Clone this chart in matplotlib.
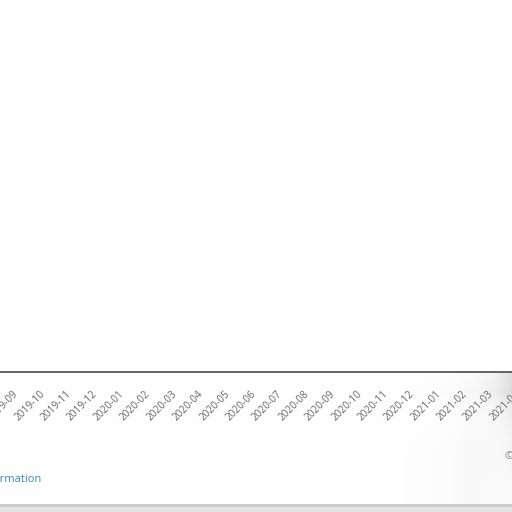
import numpy as np
import matplotlib
matplotlib.use("Agg")
import matplotlib.pyplot as plt

# Month categories on the x axis (2019-09 .. 2021-08)
months = ["2019-09", "2019-10", "2019-11", "2019-12",
          "2020-01", "2020-02", "2020-03", "2020-04", "2020-05", "2020-06",
          "2020-07", "2020-08", "2020-09", "2020-10", "2020-11", "2020-12",
          "2021-01", "2021-02", "2021-03", "2021-04", "2021-05", "2021-06",
          "2021-07", "2021-08"]
credit_text = "More information"
copyright_text = "\u00a9 Highcharts"

plt.rcParams["font.family"] = ["Open Sans", "DejaVu Sans"]

W, H = 512, 512
fig = plt.figure(figsize=(W / 100, H / 100), dpi=100)

# background shading of the lower panel
bg = fig.add_axes([0, 0, 1, 1])
bg.set_axis_off()
yy, xx = np.mgrid[0:H, 0:W].astype(float)
img = np.ones((H, W))
panel = yy >= 373
shade = 0.12 * np.exp(-((W - xx) / 18.0)) * np.exp(-np.clip(yy - 380, 0, None) / 50.0)
shade += 0.05 * np.exp(-((W - xx) / 45.0)) * np.exp(-np.abs(yy - 392) / 14.0)
shade += 0.025 * np.exp(-np.abs(xx - 470) / 35.0) * (1 / (1 + np.exp(-(yy - 430) / 10.0)))
img[panel] -= shade[panel]
band = (yy >= 504) & (yy < 507)
img[band] = 0.80
low = yy >= 507
img[low] = 0.90
img = np.clip(img, 0, 1)
bg.imshow(np.dstack([img] * 3), extent=(0, W, H, 0), aspect="auto", interpolation="bilinear")
bg.set_xlim(0, W)
bg.set_ylim(H, 0)

# main (empty) chart axes
axis_px = 372
ax_w_px = 640
ax = fig.add_axes([0, (H - axis_px) / H, ax_w_px / W, axis_px / H])
ax.patch.set_alpha(0)
step = 26.4
x0 = 13.0
ax.set_xlim(-x0 / step, (ax_w_px - x0) / step)
ax.set_ylim(0, 1)
for s in ["top", "left", "right"]:
    ax.spines[s].set_visible(False)
ax.spines["bottom"].set_color("#555555")
ax.spines["bottom"].set_linewidth(1.3)
ax.set_yticks([])
ax.set_xticks(range(len(months)))
ax.set_xticklabels(months, fontsize=7.3, color="#666666")
ax.tick_params(axis="x", length=0, pad=12)
for lab in ax.get_xticklabels():
    lab.set_rotation(45)
    lab.set_ha("right")
    lab.set_rotation_mode("anchor")

fig.text(41 / W, 1 - 479 / H, credit_text, ha="right", va="center",
         fontsize=8.0, color="#3d85b8")
fig.text(505 / W, 1 - 456 / H, copyright_text, ha="left", va="center",
         fontsize=8.0, color="#888888")

fig.savefig("out.png", dpi=100)
